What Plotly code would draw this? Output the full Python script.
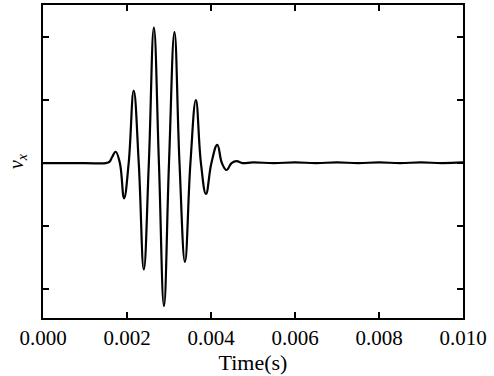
import plotly.graph_objects as go

# time (s) and v_x (arbitrary units, one y tick = 1)
t = [0.0, 0.0010, 0.00150, 0.00158, 0.00165, 0.00173, 0.00183, 0.00193, 0.00204,
     0.00216, 0.00228, 0.00240, 0.00252, 0.00264, 0.00276, 0.00288, 0.00300,
     0.00313, 0.00325, 0.00338, 0.00351, 0.00364, 0.00376, 0.00388, 0.00401,
     0.00415, 0.00426, 0.00437, 0.00449, 0.00461, 0.00475, 0.0050, 0.0055,
     0.0060, 0.0065, 0.0070, 0.0075, 0.0080, 0.0085, 0.0090, 0.0095, 0.0100]
vx = [0.0, 0.0, 0.0, 0.02, 0.10, 0.18, 0.0, -0.56, 0.0,
      1.15, 0.0, -1.69, 0.0, 2.15, 0.0, -2.27, 0.0,
      2.08, 0.0, -1.57, 0.0, 1.00, 0.0, -0.49, 0.0,
      0.29, 0.0, -0.11, 0.0, 0.03, 0.0, 0.01, 0.0,
      0.01, 0.0, 0.01, 0.0, 0.01, 0.0, 0.01, 0.0, 0.01]

x_ticks = [0.000, 0.002, 0.004, 0.006, 0.008, 0.010]
x_tick_labels = ["0.000", "0.002", "0.004", "0.006", "0.008", "0.010"]
y_ticks = [-2, -1, 0, 1, 2]

fig = go.Figure()
fig.add_trace(go.Scatter(x=t, y=vx, mode="lines",
                         line=dict(color="black", width=2.2, shape="spline", smoothing=1.2),
                         showlegend=False))

fam = "Liberation Serif, Times New Roman, serif"
tick_font = dict(family=fam, size=21, color="black")
fig.update_layout(
    width=494, height=376,
    margin=dict(l=43, r=31, t=5, b=58, autoexpand=False),
    paper_bgcolor="white", plot_bgcolor="white",
    font=tick_font,
)
fig.update_xaxes(range=[0, 0.010], tickvals=x_ticks, ticktext=x_tick_labels,
                 ticks="inside", ticklen=6, tickwidth=2, tickcolor="black",
                 tickfont=tick_font,
                 showline=True, linecolor="black", linewidth=2, mirror="ticks",
                 showgrid=False, zeroline=False,
                 title=dict(text="Time(s)", standoff=0,
                            font=dict(family=fam, size=22, color="black")))
fig.update_yaxes(range=[-2.46, 2.51], tickvals=y_ticks, showticklabels=False,
                 ticks="inside", ticklen=6, tickwidth=2, tickcolor="black",
                 showline=True, linecolor="black", linewidth=2, mirror="ticks",
                 showgrid=False, zeroline=False,
                 title=dict(text="<i>v<sub>x</sub></i>", standoff=12,
                            font=dict(family=fam, size=20, color="black")))

fig.write_html("out.html", config={"displayModeBar": False},
               post_script="document.body.style.margin='0';document.body.style.padding='0';")
